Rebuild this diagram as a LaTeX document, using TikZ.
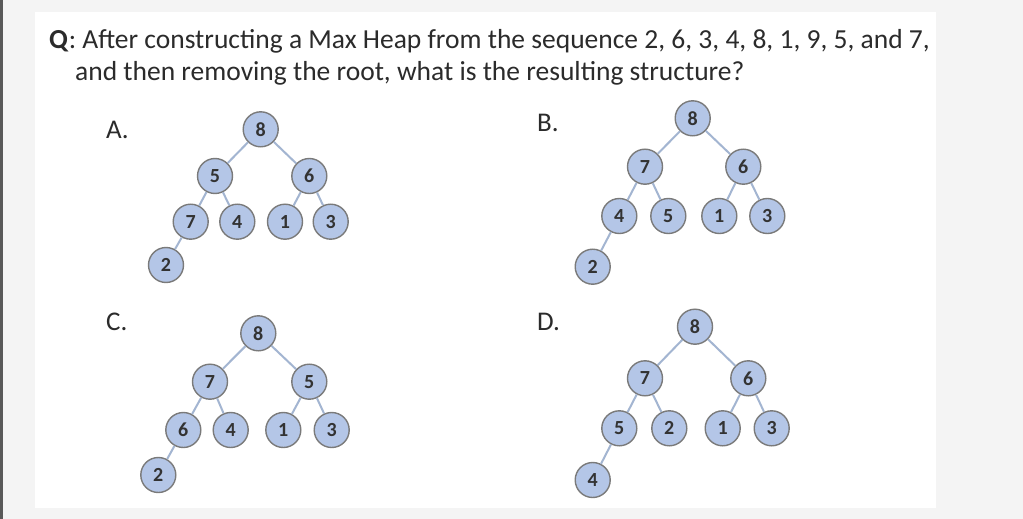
\documentclass[tikz,border=0pt]{standalone}
\usepackage{fontspec}
\setmainfont{Carlito}
\definecolor{bgc}{HTML}{F4F4F4}
\definecolor{edgec}{HTML}{A3B5D1}
\definecolor{nodefill}{HTML}{B4C6E7}
\definecolor{nodeline}{HTML}{7A7A7A}
\definecolor{txt}{HTML}{2B2B2B}
\definecolor{digit}{HTML}{333333}
\begin{document}
\begin{tikzpicture}[x=1pt,y=-1pt,
  hnode/.style={circle,draw=nodeline,line width=1.4pt,fill=nodefill,minimum size=35pt,inner sep=0pt,
    font=\fontsize{20}{20}\selectfont\bfseries,text=digit},
  hedge/.style={draw=edgec,line width=2pt},
  qtext/.style={anchor=base west,inner sep=0pt,font=\fontsize{27.5}{27.5}\selectfont,text=txt},
  lbl/.style={anchor=base west,inner sep=0pt,font=\fontsize{27}{27}\selectfont,text=txt}]
\useasboundingbox (0,0) rectangle (1023,519);
\fill[bgc] (0,0) rectangle (1023,519);
\fill[white] (35,12) rectangle (936,508);
\fill[black!65] (0,0) rectangle (3,519);
\node[qtext] (q1) at (49,49) {\textbf{Q}: After constructing a Max Heap from the sequence 2, 6, 3, 4, 8, 1, 9, 5, and 7,};
\node[qtext] (q2) at (75,81) {and then removing the root, what is the resulting structure?};
\node[lbl] (la) at (106,138) {A.};
\node[lbl] (lb) at (537,131) {B.};
\node[lbl] (lc) at (106,330) {C.};
\node[lbl] (ld) at (537,330) {D.};
% Tree A
\node[hnode] (a8) at (260.7,129.3) {8};
\node[hnode] (a5) at (215,176) {5};
\node[hnode] (a6) at (309.3,176) {6};
\node[hnode] (a7) at (190.7,221.7) {7};
\node[hnode] (a4) at (237.3,221.7) {4};
\node[hnode] (a1) at (285,221.7) {1};
\node[hnode] (a3) at (330.7,221.7) {3};
\node[hnode] (a2) at (166,265) {2};
% Tree B
\node[hnode] (b8) at (692.7,118.3) {8};
\node[hnode] (b7) at (645,166.7) {7};
\node[hnode] (b6) at (743.3,166.7) {6};
\node[hnode] (b4) at (619.3,216) {4};
\node[hnode] (b5) at (668.3,216) {5};
\node[hnode] (b1) at (719.3,216) {1};
\node[hnode] (b3) at (767.3,216) {3};
\node[hnode] (b2) at (592.7,266.7) {2};
% Tree C
\node[hnode] (c8) at (258.3,333.3) {8};
\node[hnode] (c7) at (210,381.7) {7};
\node[hnode] (c5) at (309.3,381.7) {5};
\node[hnode] (c6) at (183.3,430) {6};
\node[hnode] (c4) at (230.7,430) {4};
\node[hnode] (c1) at (283.3,430) {1};
\node[hnode] (c3) at (331.7,430) {3};
\node[hnode] (c2) at (158.3,475) {2};
% Tree D
\node[hnode] (d8) at (695,326.7) {8};
\node[hnode] (d7) at (645,378.3) {7};
\node[hnode] (d6) at (748.3,378.3) {6};
\node[hnode] (d5) at (619.3,428.3) {5};
\node[hnode] (d2) at (669.3,428.3) {2};
\node[hnode] (d1) at (722.7,428.3) {1};
\node[hnode] (d3) at (771.7,428.3) {3};
\node[hnode] (d4) at (592.7,480) {4};
\path[hedge] (a8)--(a5) (a8)--(a6) (a5)--(a7) (a5)--(a4) (a6)--(a1) (a6)--(a3) (a7)--(a2);
\path[hedge] (b8)--(b7) (b8)--(b6) (b7)--(b4) (b7)--(b5) (b6)--(b1) (b6)--(b3) (b4)--(b2);
\path[hedge] (c8)--(c7) (c8)--(c5) (c7)--(c6) (c7)--(c4) (c5)--(c1) (c5)--(c3) (c6)--(c2);
\path[hedge] (d8)--(d7) (d8)--(d6) (d7)--(d5) (d7)--(d2) (d6)--(d1) (d6)--(d3) (d5)--(d4);
\end{tikzpicture}
\end{document}
